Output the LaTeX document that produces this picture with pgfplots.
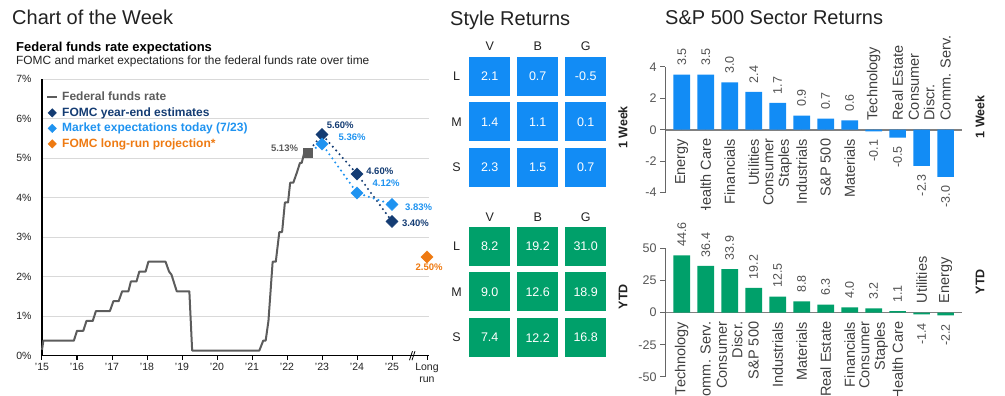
\documentclass[border=0pt]{standalone}
\usepackage{pgfplots}
\pgfplotsset{compat=1.18}
\usepackage{fontspec}
\setmainfont{Liberation Sans}
\definecolor{navy}{HTML}{143C73}
\definecolor{ltblue}{HTML}{1F93F0}
\definecolor{orng}{HTML}{EE7A12}
\definecolor{fedgray}{HTML}{5C5C5C}
\definecolor{cellblue}{HTML}{128CF5}
\definecolor{cellgreen}{HTML}{00A06A}
\definecolor{txt}{HTML}{222222}
\definecolor{tickgray}{HTML}{555555}
\definecolor{gridgray}{HTML}{D9D9D9}
\definecolor{catgray}{HTML}{404040}
\definecolor{valgray}{HTML}{505050}
\definecolor{axisgray}{HTML}{666666}
\definecolor{zeroline}{HTML}{808080}
\pgfdeclareplotmark{cell}{\pgfpathrectangle{\pgfqpoint{-20.5pt}{-19.5pt}}{\pgfqpoint{41pt}{39pt}}\pgfusepathqfill}
\tikzset{lblstyle/.style={font=\bfseries\fontsize{9.5}{11}\selectfont, inner sep=0pt}}
\pgfplotsset{
 barpos/.style={ybar, bar width=16.7pt, bar shift=0pt, draw=none, nodes near coords, point meta=explicit symbolic,
   every node near coord/.append style={rotate=90, anchor=west, inner xsep=8.5pt, inner ysep=0pt, font=\fontsize{12.5}{14}\selectfont, text=valgray}},
 barneg/.style={ybar, bar width=16.7pt, bar shift=0pt, draw=none, nodes near coords, point meta=explicit symbolic,
   every node near coord/.append style={rotate=90, anchor=east, inner xsep=8.5pt, inner ysep=0pt, font=\fontsize{12.5}{14}\selectfont, text=valgray}},
 catdown/.style={only marks, mark=*, mark size=0pt, mark options={draw=none,fill=none}, nodes near coords, point meta=explicit symbolic,
   every node near coord/.append style={rotate=90, anchor=east, align=right, inner xsep=9pt, inner ysep=0pt, font=\fontsize{14.5}{15.5}\selectfont, text=catgray}},
 catup/.style={only marks, mark=*, mark size=0pt, mark options={draw=none,fill=none}, nodes near coords, point meta=explicit symbolic,
   every node near coord/.append style={rotate=90, anchor=west, align=left, inner xsep=9pt, inner ysep=0pt, font=\fontsize{14.5}{15.5}\selectfont, text=catgray}},
 cellplot/.style={only marks, mark=cell, nodes near coords, point meta=explicit symbolic,
   every node near coord/.append style={anchor=center, text=white, font=\fontsize{12.5}{14}\selectfont}},
 gridaxis/.style={anchor=south west, scale only axis, width=96pt, xmin=0, xmax=2, ymin=0, ymax=2, hide axis, clip=false},
}
\begin{document}
\begin{tikzpicture}[x=1pt,y=1pt]
\useasboundingbox (0,0) rectangle (1005,396);

% ---------- titles ----------
\node[anchor=base west, inner sep=0, font=\fontsize{20}{23}\selectfont, text=txt] at (12,371) {Chart of the Week};
\node[anchor=base west, inner sep=0, font=\fontsize{20}{23}\selectfont, text=txt] at (450,370) {Style Returns};
\node[anchor=base west, inner sep=0, font=\fontsize{20}{23}\selectfont, text=txt] at (665,371) {S\&P 500 Sector Returns};
\node[anchor=base west, inner sep=0, font=\bfseries\fontsize{13}{15}\selectfont, text=black] at (16,344.5) {Federal funds rate expectations};
\node[anchor=base west, inner sep=0, font=\fontsize{11.9}{13}\selectfont, text=txt] at (16,331) {FOMC and market expectations for the federal funds rate over time};

% ---------- left chart ----------
\begin{axis}[
  at={(42pt,40.3pt)}, anchor=south west, scale only axis,
  width=386.75pt, height=276.5pt,
  xmin=2015, xmax=2026.05, ymin=0, ymax=7,
  axis x line=bottom, axis y line=left,
  axis line style={black, line width=1.2pt, -},
  xtick={2015,2016,2017,2018,2019,2020,2021,2022,2023,2024,2025,2026},
  xticklabels={'15,'16,'17,'18,'19,'20,'21,'22,'23,'24,'25,{Long\\run}},
  ytick={0,1,2,3,4,5,6,7},
  yticklabels={0\%,1\%,2\%,3\%,4\%,5\%,6\%,7\%},
  ymajorgrids, grid style={gridgray, line width=1.3pt},
  ytick style={draw=none},
  xtick style={black, line width=1pt},
  tick align=outside, major tick length=4pt,
  tick label style={font=\fontsize{10.5}{12}\selectfont, text=txt},
  xticklabel style={align=center, anchor=north},
  yticklabel style={xshift=-3pt},
  clip=false,
  legend style={draw=none, fill=none, at={(0.0103,0.957)}, anchor=north west, inner sep=0pt, row sep=3.3pt,
     nodes={inner xsep=4pt, inner ysep=1pt},
     font=\bfseries\fontsize{12}{13.5}\selectfont},
  legend cell align=left,
  legend image code/.code={\draw[mark repeat=2,mark phase=2,#1] plot coordinates {(0pt,0pt) (5pt,0pt) (10pt,0pt)};},
  legend image post style={mark size=3pt},
]
\addplot[fedgray, line width=2pt, line join=round] coordinates {
 (2015.00,0.15) (2015.04,0.38) (2015.91,0.38) (2016.00,0.63) (2016.18,0.63) (2016.27,0.88)
 (2016.45,0.88) (2016.54,1.13) (2016.94,1.13) (2017.04,1.38) (2017.19,1.38) (2017.29,1.63)
 (2017.47,1.63) (2017.54,1.88) (2017.70,1.88) (2017.78,2.13) (2017.96,2.13) (2018.04,2.38)
 (2018.53,2.38) (2018.63,2.13) (2018.70,2.05) (2018.85,1.63) (2019.21,1.63) (2019.29,0.13)
 (2021.21,0.13) (2021.32,0.38) (2021.39,0.38) (2021.47,0.88) (2021.53,1.63) (2021.59,2.38)
 (2021.68,2.38) (2021.78,3.13) (2021.86,3.13) (2021.94,3.88) (2022.03,3.88) (2022.09,4.38)
 (2022.18,4.38) (2022.28,4.63) (2022.37,4.88) (2022.42,4.88) (2022.49,5.13) (2022.58,5.13)};
\addlegendentry[text=fedgray]{Federal funds rate}
\addplot[forget plot, navy, line width=2.3pt, line cap=round, dash pattern=on 0pt off 5pt] coordinates {
 (2022.58,5.13) (2023,5.60) (2024,4.60) (2025,3.40)};
\addplot[forget plot, ltblue, line width=2.3pt, line cap=round, dash pattern=on 0pt off 5pt] coordinates {
 (2022.58,5.13) (2023,5.36) (2024,4.12) (2025,3.83)};
\addplot[forget plot, only marks, mark=square*, mark size=4.5pt, color=fedgray] coordinates {(2022.58,5.13)};
\addplot[only marks, mark=square*, mark size=4.3pt, color=navy, mark options={rotate=45}] coordinates {
 (2023,5.60) (2024,4.60) (2025,3.40)};
\addlegendentry[text=navy]{FOMC year-end estimates}
\addplot[only marks, mark=square*, mark size=4.3pt, color=ltblue, mark options={rotate=45}] coordinates {
 (2023,5.36) (2024,4.12) (2025,3.83)};
\addlegendentry[text=ltblue]{Market expectations today (7/23)}
\addplot[only marks, mark=square*, mark size=4.3pt, color=orng, mark options={rotate=45}] coordinates {
 (2026,2.50)};
\addlegendentry[text=orng]{FOMC long-run projection*}
\node[lblstyle, text=fedgray, anchor=east] at (axis cs:2022.32,5.26) {5.13\%};
\node[lblstyle, text=navy, anchor=west] at (axis cs:2023.13,5.84) {5.60\%};
\node[lblstyle, text=ltblue, anchor=west] at (axis cs:2023.47,5.54) {5.36\%};
\node[lblstyle, text=navy, anchor=west] at (axis cs:2024.26,4.68) {4.60\%};
\node[lblstyle, text=ltblue, anchor=west] at (axis cs:2024.44,4.37) {4.12\%};
\node[lblstyle, text=ltblue, anchor=west] at (axis cs:2025.37,3.76) {3.83\%};
\node[lblstyle, text=navy, anchor=west] at (axis cs:2025.28,3.36) {3.40\%};
\node[lblstyle, text=orng, anchor=center] at (axis cs:2026.06,2.25) {2.50\%};
\draw[black, line width=0.8pt] ([xshift=-3.5pt,yshift=-4.5pt]axis cs:2025.6,0) -- ++(3pt,9pt);
\draw[black, line width=0.8pt] ([xshift=-1pt,yshift=-4.5pt]axis cs:2025.6,0) -- ++(3pt,9pt);
\end{axis}

% ---------- style returns ----------
\begin{axis}[gridaxis, at={(489.7pt,228.5pt)}, height=91.2pt]
\addplot[cellplot, color=cellblue, mark options={fill=cellblue}] coordinates {
 (0,2)[2.1] (1,2)[0.7] (2,2)[-0.5]
 (0,1)[1.4] (1,1)[1.1] (2,1)[0.1]
 (0,0)[2.3] (1,0)[1.5] (2,0)[0.7]};
\node[font=\fontsize{12.5}{14}\selectfont, text=txt] at (axis cs:0,2.65) {V};
\node[font=\fontsize{12.5}{14}\selectfont, text=txt] at (axis cs:1,2.65) {B};
\node[font=\fontsize{12.5}{14}\selectfont, text=txt] at (axis cs:2,2.65) {G};
\node[font=\fontsize{12.5}{14}\selectfont, text=txt] at (axis cs:-0.69,2) {L};
\node[font=\fontsize{12.5}{14}\selectfont, text=txt] at (axis cs:-0.69,1) {M};
\node[font=\fontsize{12.5}{14}\selectfont, text=txt] at (axis cs:-0.69,0) {S};
\end{axis}
\begin{axis}[gridaxis, at={(489.7pt,58.3pt)}, height=91.4pt]
\addplot[cellplot, color=cellgreen, mark options={fill=cellgreen}] coordinates {
 (0,2)[8.2] (1,2)[19.2] (2,2)[31.0]
 (0,1)[9.0] (1,1)[12.6] (2,1)[18.9]
 (0,0)[7.4] (1,0)[12.2] (2,0)[16.8]};
\node[font=\fontsize{12.5}{14}\selectfont, text=txt] at (axis cs:0,2.635) {V};
\node[font=\fontsize{12.5}{14}\selectfont, text=txt] at (axis cs:1,2.635) {B};
\node[font=\fontsize{12.5}{14}\selectfont, text=txt] at (axis cs:2,2.635) {G};
\node[font=\fontsize{12.5}{14}\selectfont, text=txt] at (axis cs:-0.69,2) {L};
\node[font=\fontsize{12.5}{14}\selectfont, text=txt] at (axis cs:-0.69,1) {M};
\node[font=\fontsize{12.5}{14}\selectfont, text=txt] at (axis cs:-0.69,0) {S};
\end{axis}

% ---------- sector returns: 1 week ----------
\begin{scope}
\clip (600,186) rectangle (1005,396);
\begin{axis}[
 at={(665pt,203.3pt)}, anchor=south west, scale only axis, width=296.7pt, height=126pt,
 xmin=-0.696, xmax=11.67, ymin=-4, ymax=4,
 axis y line=left, axis x line=middle,
 x axis line style={draw=zeroline, line width=1.6pt, -},
 y axis line style={draw=axisgray, line width=1pt, -},
 xtick=\empty, ytick={-4,-2,0,2,4}, yticklabels={-4,-2,0,2,4},
 tick align=outside, major tick length=5pt, ytick style={axisgray, line width=1pt},
 yticklabel style={font=\fontsize{12.5}{14}\selectfont, text=tickgray},
 clip=false]
\addplot[barpos, fill=cellblue] coordinates {
 (0,3.5)[3.5] (1,3.5)[3.5] (2,3.0)[3.0] (3,2.4)[2.4] (4,1.7)[1.7] (5,0.9)[0.9] (6,0.7)[0.7] (7,0.6)[0.6]};
\addplot[barneg, fill=cellblue] coordinates {
 (8,-0.1)[-0.1] (9,-0.5)[-0.5] (10,-2.3)[-2.3] (11,-3.0)[-3.0]};
\addplot[catdown] coordinates {
 (0,0)[Energy] (1,0)[Health Care] (2,0)[Financials] (3,0)[Utilities] (4,0)[{Consumer\\Staples}]
 (5,0)[Industrials] (6,0)[S\&P 500] (7,0)[Materials]};
\addplot[catup] coordinates {
 (8,0)[Technology] (9,0)[Real Estate] (10,0)[{Consumer\\Discr.}] (11,0)[Comm. Serv.]};
\end{axis}
\end{scope}
\node[rotate=90, font=\bfseries\fontsize{12.5}{14}\selectfont, text=txt] at (623,268.5) {1 Week};
\node[rotate=90, font=\bfseries\fontsize{12.5}{14}\selectfont, text=txt] at (980,279.3) {1 Week};

% ---------- sector returns: YTD ----------
\begin{scope}
\clip (600,0) rectangle (1005,200);
\begin{axis}[
 at={(665pt,19.2pt)}, anchor=south west, scale only axis, width=296.7pt, height=128.4pt,
 xmin=-0.696, xmax=11.67, ymin=-50, ymax=50,
 axis y line=left, axis x line=middle,
 x axis line style={draw=zeroline, line width=1.6pt, -},
 y axis line style={draw=axisgray, line width=1pt, -},
 xtick=\empty, ytick={-50,-25,0,25,50}, yticklabels={-50,-25,0,25,50},
 tick align=outside, major tick length=5pt, ytick style={axisgray, line width=1pt},
 yticklabel style={font=\fontsize{12.5}{14}\selectfont, text=tickgray},
 clip=false]
\addplot[barpos, fill=cellgreen] coordinates {
 (0,44.6)[44.6] (1,36.4)[36.4] (2,33.9)[33.9] (3,19.2)[19.2] (4,12.5)[12.5] (5,8.8)[8.8]
 (6,6.3)[6.3] (7,4.0)[4.0] (8,3.2)[3.2] (9,1.1)[1.1]};
\addplot[barneg, fill=cellgreen] coordinates {
 (10,-1.4)[-1.4] (11,-2.2)[-2.2]};
\addplot[catdown] coordinates {
 (0,0)[Technology] (1,0)[Comm. Serv.] (2,0)[{Consumer\\Discr.}] (3,0)[S\&P 500] (4,0)[Industrials]
 (5,0)[Materials] (6,0)[Real Estate] (7,0)[Financials] (8,0)[{Consumer\\Staples}] (9,0)[Health Care]};
\addplot[catup] coordinates {
 (10,0)[Utilities] (11,0)[Energy]};
\end{axis}
\end{scope}
\node[rotate=90, font=\bfseries\fontsize{12.5}{14}\selectfont, text=txt] at (623,99.3) {YTD};
\node[rotate=90, font=\bfseries\fontsize{12.5}{14}\selectfont, text=txt] at (980,114.3) {YTD};
\end{tikzpicture}
\end{document}
